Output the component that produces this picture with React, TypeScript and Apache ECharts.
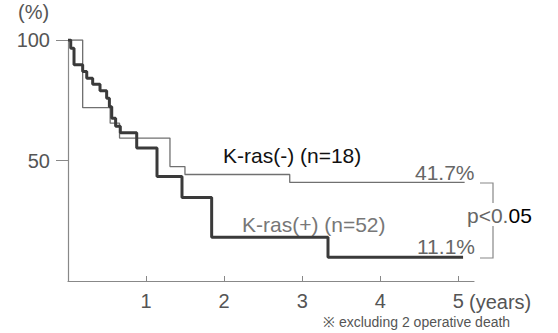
import React, { useEffect, useRef } from "react";
import * as echarts from "echarts";

// Kaplan-Meier survival (%), years
const krasNegTimes = [0, 0.188, 0.54, 0.66, 1.306, 1.498, 2.84, 5.08];
const krasNegSurv = [100, 71.9, 65.5, 59.3, 47.5, 44.2, 40.9, 40.9];

const krasPosTimes = [0, 0.035, 0.077, 0.188, 0.24, 0.316, 0.41, 0.495, 0.53, 0.56, 0.61, 0.67, 0.88, 1.14, 1.46, 1.84, 3.33, 5.06];
const krasPosSurv = [100, 96.6, 89.7, 86.9, 84.1, 81.6, 78.9, 75.8, 72.3, 67.5, 64.2, 61.5, 55.2, 43.4, 34.6, 18.2, 9.9, 9.9];

const yTicks = [50, 100];
const xTicks = [1, 2, 3, 4, 5];

const labelNeg = "K-ras(-) (n=18)";
const labelPos = "K-ras(+) (n=52)";
const endNeg = "41.7%";
const endPos = "11.1%";
const pValue = ["p<0.", "05"];
const xUnit = "(years)";
const yUnit = "(%)";
const footnote = "※ excluding 2 operative death";

const FONT = "'Liberation Sans', Arial, sans-serif";

export default function App() {
  const ref = useRef<HTMLDivElement>(null);
  useEffect(() => {
    if (!ref.current) return;
    const chart = echarts.init(ref.current, undefined, { renderer: "svg" });
    const zip = (xs: number[], ys: number[]) => xs.map((x, i) => [x, ys[i]]);
    chart.setOption({
      animation: false,
      backgroundColor: "#fff",
      textStyle: { fontFamily: FONT },
      grid: { left: 68, right: 84, top: 40, bottom: 52 },
      xAxis: {
        type: "value",
        min: 0,
        max: 5.2,
        splitLine: { show: false },
        axisLine: { lineStyle: { color: "#888", width: 1.2 } },
        axisTick: { show: true, inside: true, length: 5, customValues: xTicks, lineStyle: { color: "#888" } },
        axisLabel: { customValues: xTicks, fontSize: 20, color: "#555", margin: 10, fontFamily: FONT },
      },
      yAxis: {
        type: "value",
        min: 0,
        max: 100,
        interval: 50,
        splitLine: { show: false },
        axisLine: { show: true, lineStyle: { color: "#888", width: 1.2 } },
        axisTick: { show: true, length: 12, customValues: yTicks, lineStyle: { color: "#888" } },
        axisLabel: { customValues: yTicks, fontSize: 20, color: "#555", margin: 18, fontFamily: FONT },
      },
      series: [
        {
          type: "line",
          step: "end",
          data: zip(krasNegTimes, krasNegSurv),
          showSymbol: false,
          lineStyle: { color: "#707070", width: 1.3 },
          z: 2,
        },
        {
          type: "line",
          step: "end",
          data: zip(krasPosTimes, krasPosSurv),
          showSymbol: false,
          lineStyle: { color: "#3a3a3a", width: 3 },
          z: 3,
        },
      ],
      graphic: [
        { type: "text", style: { x: 18, y: 12, text: yUnit, fill: "#555", font: `20px ${FONT}`, textVerticalAlign: "middle" } },
        { type: "text", style: { x: 223, y: 155, text: labelNeg, fill: "#111", font: `21px ${FONT}`, textVerticalAlign: "middle" } },
        { type: "text", style: { x: 415, y: 172, text: endNeg, fill: "#666", font: `21px ${FONT}`, textVerticalAlign: "middle" } },
        { type: "text", style: { x: 242, y: 224, text: labelPos, fill: "#777", font: `21px ${FONT}`, textVerticalAlign: "middle" } },
        { type: "text", style: { x: 417, y: 246, text: endPos, fill: "#666", font: `21px ${FONT}`, textVerticalAlign: "middle" } },
        {
          type: "text",
          style: {
            x: 467,
            y: 215,
            text: `{a|${pValue[0]}}{b|${pValue[1]}}`,
            textVerticalAlign: "middle",
            rich: {
              a: { fill: "#666", fontSize: 21, fontFamily: FONT },
              b: { fill: "#000", fontSize: 21, fontFamily: FONT },
            },
          },
        },
        { type: "text", style: { x: 469, y: 302, text: xUnit, fill: "#555", font: `20px ${FONT}`, textVerticalAlign: "middle" } },
        { type: "text", style: { x: 323, y: 322, text: footnote, fill: "#555", font: `14px ${FONT}`, textVerticalAlign: "middle" } },
        { type: "polyline", shape: { points: [[480, 183], [493, 183], [493, 203]] }, style: { stroke: "#888", lineWidth: 1.2, fill: null } },
        { type: "polyline", shape: { points: [[493, 226], [493, 258], [480, 258]] }, style: { stroke: "#888", lineWidth: 1.2, fill: null } },
      ],
    });
    return () => chart.dispose();
  }, []);
  return <div ref={ref} style={{ width: 558, height: 333, position: "absolute", left: 0, top: 0 }} />;
}
